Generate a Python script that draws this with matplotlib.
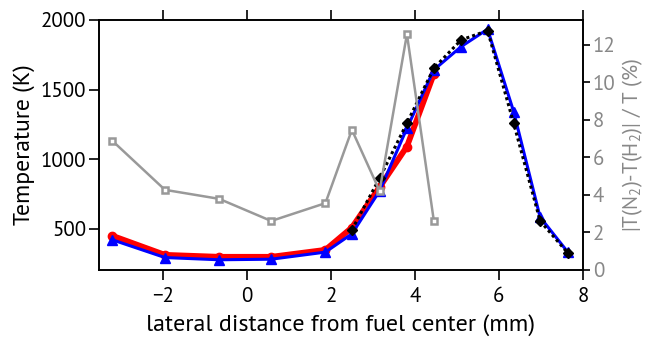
import matplotlib
matplotlib.use("Agg")
import matplotlib.pyplot as plt

FAM = ['PT Sans', 'Open Sans', 'DejaVu Sans']
plt.rcParams['font.family'] = FAM
plt.rcParams['mathtext.fontset'] = 'custom'
for k in ('rm', 'it', 'bf', 'sf'):
    plt.rcParams['mathtext.' + k] = FAM[0]

x_all = [-3.2, -1.95, -0.66, 0.58, 1.87, 2.5, 3.16, 3.81, 4.45, 5.1, 5.73, 6.35, 6.98, 7.64]

x_red = x_all[:9]
t_red = [450, 313, 299, 299, 349, 509, 800, 1091, 1612]

x_blue = x_all
t_blue = [421, 294, 278, 282, 333, 464, 773, 1222, 1641, 1808, 1933, 1342, 584, 333]

x_black = x_all[5:]
t_black = [493, 864, 1259, 1653, 1856, 1923, 1259, 557, 326]

x_gray = x_all[:9]
diff_gray = [6.88, 4.27, 3.79, 2.61, 3.56, 7.47, 4.21, 12.57, 2.63]

fig = plt.figure(figsize=(6.47, 3.37), dpi=100)
ax1 = fig.add_axes([0.153, 0.199, 0.748, 0.742])
ax2 = ax1.twinx()

ax1.plot(x_red, t_red, color='#ff0000', lw=4.2, marker='o', ms=6, zorder=2)
ax1.plot(x_blue, t_blue, color='#0000ff', lw=2.2, marker='^', ms=7, zorder=3)
ax1.plot(x_black, t_black, color='black', lw=2.2, ls=(0, (1, 1)), marker='D', ms=5.5, zorder=4)

ax2.plot(x_gray, diff_gray, color='#999999', lw=1.8, marker='s', ms=5,
         mfc='white', mec='#999999', mew=1.8)

ax1.set_xlim(-3.52, 8)
ax1.set_ylim(205, 2000)
ax2.set_ylim(0, 13.33)

ax1.set_xticks([-2, 0, 2, 4, 6, 8])
ax1.set_xticklabels(['\u22122', '0', '2', '4', '6', '8'])
ax1.set_yticks([500, 1000, 1500, 2000])
ax2.set_yticks([0, 2, 4, 6, 8, 10, 12])

ax1.tick_params(axis='both', direction='out', length=7, width=1.2, labelsize=15, top=True, pad=2)
ax1.tick_params(axis='x', pad=5)
ax2.tick_params(axis='y', direction='out', length=5, width=1.2, labelsize=15, colors='black', pad=2)
for tl in ax2.get_yticklabels():
    tl.set_color('#888888')

for sp in ax1.spines.values():
    sp.set_linewidth(1.2)
for sp in ax2.spines.values():
    sp.set_linewidth(1.2)

ax1.set_xlabel('lateral distance from fuel center (mm)', fontsize=17.3, labelpad=6)
ax1.set_ylabel('Temperature (K)', fontsize=17, labelpad=4)
ax2.set_ylabel(r'|T(N$_2$)-T(H$_2$)| / T (%)', fontsize=15, color='#888888', labelpad=4)

fig.savefig('out.png', dpi=100)
